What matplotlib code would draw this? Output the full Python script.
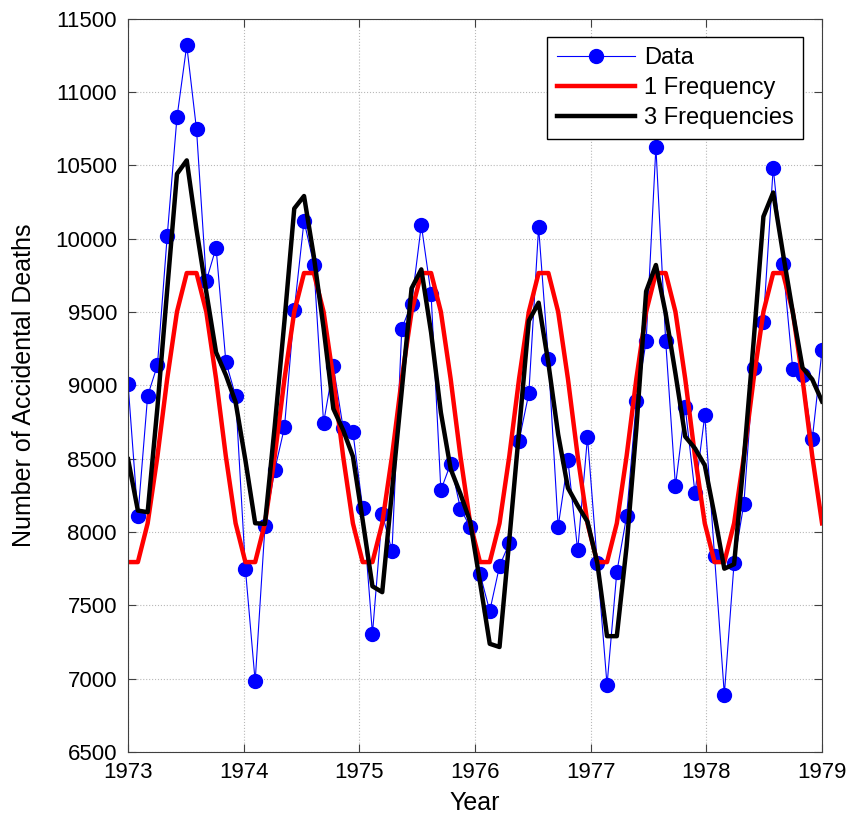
# Muertes accidentales mensuales 1973-1978 con ajustes de 1 y 3 frecuencias
import numpy as np
import matplotlib.pyplot as plt

plt.rcParams['font.family'] = ['Liberation Sans', 'DejaVu Sans']

# Datos mensuales (enero 1973 - diciembre 1978)
muertes = [9007, 8106, 8928, 9137, 10017, 10826, 11317, 10744, 9713, 9938, 9161, 8927,
           7750, 6981, 8038, 8422, 8714, 9512, 10120, 9823, 8743, 9129, 8710, 8680,
           8162, 7306, 8124, 7870, 9387, 9556, 10093, 9620, 8285, 8466, 8160, 8034,
           7717, 7461, 7767, 7925, 8623, 8945, 10078, 9179, 8037, 8488, 7874, 8647,
           7792, 6957, 7726, 8106, 8890, 9299, 10625, 9302, 8314, 8850, 8265, 8796,
           7836, 6892, 7791, 8192, 9115, 9434, 10484, 9827, 9110, 9070, 8633, 9240]

# Ajuste con una frecuencia
ajuste_1 = [7795, 7795, 8059, 8516, 9044, 9501, 9765, 9765, 9501, 9044, 8516, 8059,
            7795, 7795, 8059, 8516, 9044, 9501, 9765, 9765, 9501, 9044, 8516, 8059,
            7795, 7795, 8059, 8516, 9044, 9501, 9765, 9765, 9501, 9044, 8516, 8059,
            7795, 7795, 8059, 8516, 9044, 9501, 9765, 9765, 9501, 9044, 8516, 8059,
            7795, 7795, 8059, 8516, 9044, 9501, 9765, 9765, 9501, 9044, 8516, 8059,
            7795, 7795, 8059, 8516, 9044, 9501, 9765, 9765, 9501, 9044, 8516, 8059]

# Ajuste con tres frecuencias
ajuste_3 = [8496, 8146, 8135, 8850, 9650, 10441, 10533, 10061, 9636, 9225, 9070, 8885,
            8490, 8060, 8055, 8720, 9440, 10205, 10290, 9880, 9390, 8840, 8695, 8515,
            8080, 7630, 7590, 8280, 8965, 9660, 9790, 9360, 8815, 8430, 8260, 8070,
            7660, 7238, 7216, 7946, 8690, 9440, 9563, 9150, 8665, 8300, 8180, 8070,
            7790, 7290, 7290, 7900, 8705, 9640, 9820, 9490, 9080, 8650, 8570, 8455,
            8115, 7750, 7780, 8500, 9300, 10150, 10314, 9900, 9500, 9120, 9040, 8890]

# Eje de tiempo: los 72 meses repartidos entre 1973 y 1979
anios = np.linspace(1973, 1979, len(muertes))

fig = plt.figure(figsize=(8.54, 8.23), dpi=100)
ax = fig.add_axes([0.150, 0.0862, 0.8126, 0.8913])

ax.plot(anios, muertes, '-o', color='blue', linewidth=0.8, markersize=10,
        label='Data')
ax.plot(anios, ajuste_1, color='red', linewidth=3.2, label='1 Frequency')
ax.plot(anios, ajuste_3, color='black', linewidth=3.2, label='3 Frequencies')

ax.set_xlim(1973, 1979)
ax.set_ylim(6500, 11500)
ax.set_xticks(range(1973, 1980))
ax.set_yticks(range(6500, 11501, 500))

ax.grid(True, linestyle=':', color='#b8b8b8', linewidth=0.8)
ax.tick_params(direction='in', top=True, right=True, labelsize=16, length=6,
               color='#404040')
ax.tick_params(axis='x', pad=7)
ax.tick_params(axis='y', pad=8)
for s in ax.spines.values():
    s.set_color('#404040')

ax.set_xlabel('Year', fontsize=18, labelpad=6)
ax.set_ylabel('Number of Accidental Deaths', fontsize=18, labelpad=14)

leg = ax.legend(loc='upper right', fontsize=17, fancybox=False, framealpha=1,
                edgecolor='black', borderaxespad=0.8, handlelength=3.3,
                handletextpad=0.4, labelspacing=0.35)
leg.get_frame().set_linewidth(1.0)

plt.savefig('out.png', dpi=100)
